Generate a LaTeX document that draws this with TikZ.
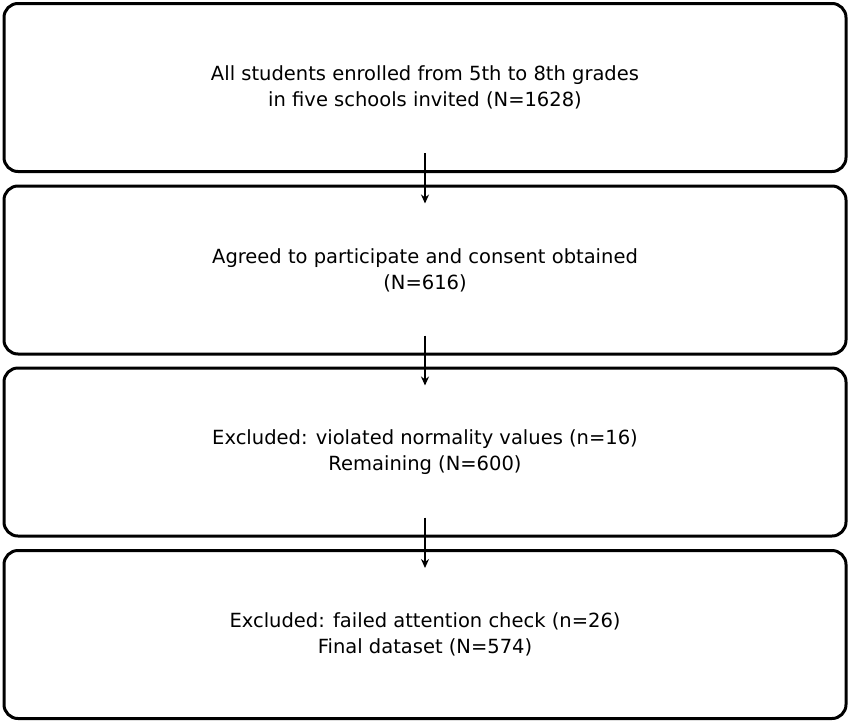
\documentclass[tikz,border=0pt]{standalone}
\usepackage{fontspec}
\setmainfont{DejaVu Sans}
\usetikzlibrary{calc,arrows.meta}
\begin{document}
\begin{tikzpicture}[x=1pt,y=1pt,
  stage/.style={draw,line width=3pt,rounded corners=14pt,minimum width=842pt,minimum height=168pt,align=center,font=\fontsize{19.5}{26}\selectfont,inner sep=0pt},
  flow/.style={line width=2.5pt,-{Stealth[length=9pt,width=8pt]}}]
\useasboundingbox (0,0) rectangle (850,-723);
\node[stage] (b1) at (425,-87.5) {All students enrolled from 5th to 8th grades\\in five schools invited (N=1628)};
\node[stage] (b2) at (425,-270) {Agreed to participate and consent obtained\\(N=616)};
\node[stage] (b3) at (425,-452) {Excluded: violated normality values (n=16)\\Remaining (N=600)};
\node[stage] (b4) at (425,-634.5) {Excluded: failed attention check (n=26)\\Final dataset (N=574)};
\foreach \a/\b in {b1/b2,b2/b3,b3/b4}{
  \coordinate (s) at ($(\a.south)+(0,20)$);
  \coordinate (e) at ($(\b.north)+(0,-19)$);
  \draw[flow] (s) -- (e);
}
\end{tikzpicture}
\end{document}
